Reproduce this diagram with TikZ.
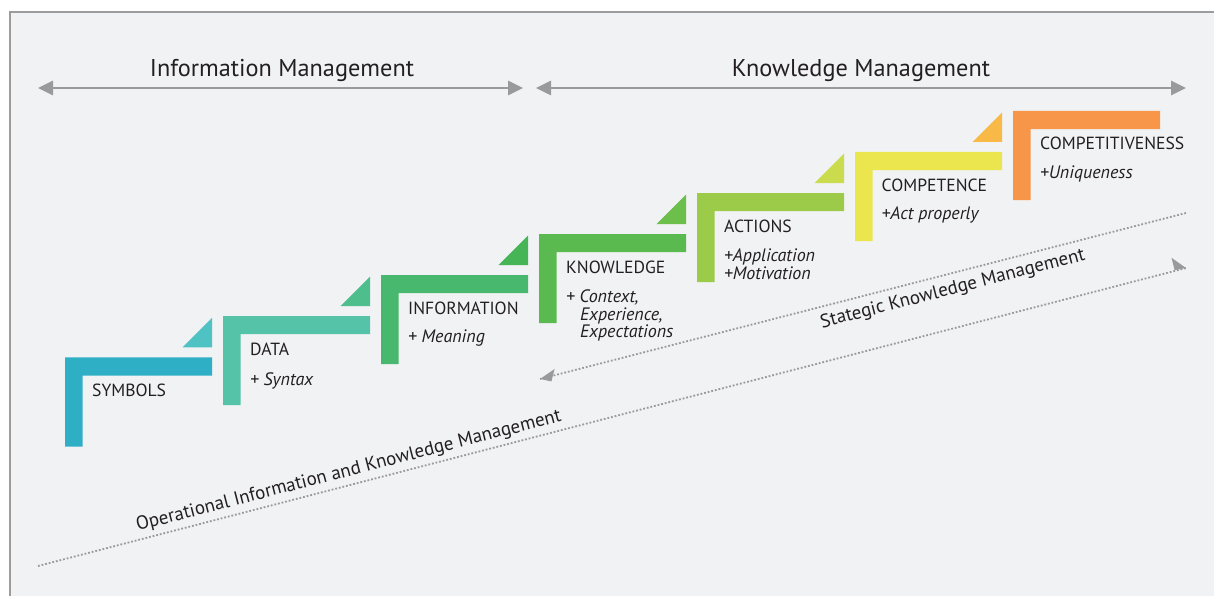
\documentclass[tikz,border=0pt]{standalone}
\usepackage{fontspec}
\setmainfont{PT Sans}
\usetikzlibrary{arrows.meta}

\definecolor{bgC}{HTML}{F1F2F4}
\definecolor{frameC}{HTML}{9C9C9C}
\definecolor{arrowC}{HTML}{9A9A9A}
\definecolor{inkC}{HTML}{231F20}
\definecolor{symC}{HTML}{2FAFC6}
\definecolor{dataC}{HTML}{55C3A8}
\definecolor{infoC}{HTML}{47B86D}
\definecolor{knowC}{HTML}{5BBA4F}
\definecolor{actC}{HTML}{9CCB4A}
\definecolor{compC}{HTML}{EBE54E}
\definecolor{cmptC}{HTML}{F79548}
\definecolor{triA}{HTML}{4FC3C4}
\definecolor{triB}{HTML}{4DBE8C}
\definecolor{triC}{HTML}{45B556}
\definecolor{triD}{HTML}{6CBF4A}
\definecolor{triE}{HTML}{CADC4E}
\definecolor{triF}{HTML}{F8B947}

% one stair step: L-shaped bar with its top-left corner at (#1,#2)
\newcommand\stairstep[3]{%
  \fill[#3] (#1,#2) -- ++(147,0) -- ++(0,18.2) -- ++(-129.3,0) -- ++(0,71) -- ++(-17.7,0) -- cycle;}
% small wedge sitting above the right end of a bar whose top-right corner is (#1,#2)
\newcommand\stairwedge[3]{%
  \fill[#3] (#1,#2-10) -- (#1,#2-39.5) -- (#1-29.5,#2-10) -- cycle;}

\tikzset{
  steptitle/.style={anchor=base west, inner sep=0pt, text=inkC, font=\fontsize{17.6}{20}\selectfont},
  stepnote/.style={anchor=base west, inner sep=0pt, text=inkC, font=\fontsize{18}{20}\selectfont\itshape},
  header/.style={anchor=base, inner sep=0pt, text=inkC, font=\fontsize{24.3}{28}\selectfont},
  diaglabel/.style={anchor=base, inner sep=0pt, text=inkC, rotate=14.5, font=\fontsize{19}{22}\selectfont},
  spanarrow/.style={arrowC, line width=2.6pt, {Triangle[length=15pt,width=14pt]}-{Triangle[length=15pt,width=14pt]}},
  dotline/.style={arrowC, line width=1.8pt, dash pattern=on 1.8pt off 1.9pt}
}

\begin{document}
\begin{tikzpicture}[x=1pt,y=-1pt]
\useasboundingbox (0,0) rectangle (1214,596);
% page background and frame
\fill[white] (0,0) rectangle (1214,596);
\fill[bgC] (10,12) rectangle (1214,596);
\draw[frameC, line width=2pt] (10,600) -- (10,12) -- (1220,12);

% span arrows along the top
\coordinate (imL) at (38,88);
\coordinate (imR) at (523,88);
\coordinate (kmL) at (536,88);
\coordinate (kmR) at (1186,88);
\draw[spanarrow] (imL) -- (imR);
\draw[spanarrow] (kmL) -- (kmR);
\node[header] (imlabel) at (282,76.5) {Information Management};
\node[header] (kmlabel) at (861,76.5) {Knowledge Management};

% stairs
\stairstep{65}{357.3}{symC}
\stairstep{223}{316}{dataC}
\stairstep{381}{275}{infoC}
\stairstep{539}{234}{knowC}
\stairstep{697}{193}{actC}
\stairstep{855}{152}{compC}
\stairstep{1013}{111}{cmptC}

\stairwedge{212}{357.3}{triA}
\stairwedge{370}{316}{triB}
\stairwedge{528}{275}{triC}
\stairwedge{686}{234}{triD}
\stairwedge{844}{193}{triE}
\stairwedge{1002}{152}{triF}

% step labels
\node[steptitle] (sym) at (92,396.5) {SYMBOLS};

\node[steptitle] (data) at (250,355.3) {DATA};
\node[stepnote] (datanote) at (250,385) {+ Syntax};

\node[steptitle] (info) at (408,314.3) {INFORMATION};
\node[stepnote] (infonote) at (408,342) {+ Meaning};

\node[steptitle] (know) at (566,273.3) {KNOWLEDGE};
\node[stepnote] (knownoteA) at (566,302.3) {+ Context,};
\node[stepnote] (knownoteB) at (580,320) {Experience,};
\node[stepnote] (knownoteC) at (580,337.5) {Expectations};

\node[steptitle] (act) at (724,232.3) {ACTIONS};
\node[stepnote] (actnoteA) at (724,261.7) {+Application};
\node[stepnote] (actnoteB) at (724,279.3) {+Motivation};

\node[steptitle] (comp) at (881.5,191) {COMPETENCE};
\node[stepnote] (compnote) at (881.5,219.3) {+Act properly};

\node[steptitle] (cmpt) at (1040,150) {COMPETITIVENESS};
\node[stepnote] (cmptnote) at (1040,178.3) {+Uniqueness};

% diagonal management scopes
\coordinate (opStart) at (38,566);
\coordinate (opEnd) at (1186,268);
\coordinate (stStart) at (1186,213);
\coordinate (stEnd) at (540,379);
\draw[dotline] (opStart) -- (opEnd);
\draw[dotline] (stStart) -- (stEnd);
\fill[arrowC] (opEnd) -- ++(-14.5,-10.2) -- ++(3.1,12.4) -- cycle;
\fill[arrowC] (stEnd) -- ++(14.6,-10.0) -- ++(-3.2,12.4) -- cycle;

\node[diaglabel] (oplabel) at (350,476) {Operational Information and Knowledge Management};
\node[diaglabel] (stlabel) at (954,294) {Stategic Knowledge Management};
\end{tikzpicture}
\end{document}
